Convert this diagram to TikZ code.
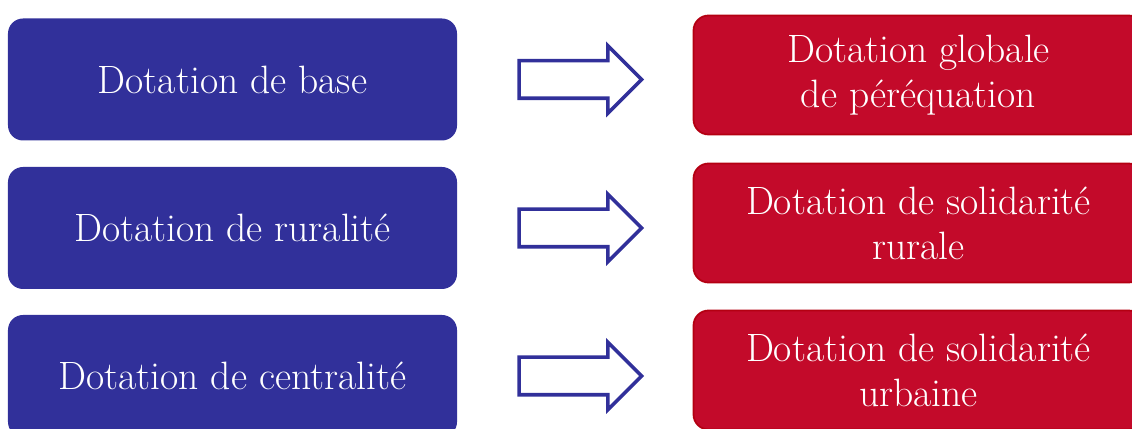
\documentclass[tikz,border=0pt]{standalone}
\usepackage{tikz}
\usepackage{xcolor}
\usetikzlibrary{shapes.arrows}
\usetikzlibrary{positioning}

\definecolor{dotblue}{HTML}{31309A}
\definecolor{dotred}{HTML}{C30A2A}
\definecolor{dotredline}{HTML}{B40012}

\tikzset{
  oldbox/.style={rounded corners=.3cm, fill=dotblue, text=white,
    minimum width=8.98cm, minimum height=2.44cm, align=center,
    font=\fontsize{22.5}{25.5}\selectfont},
  newbox/.style={rounded corners=.3cm, fill=dotred, draw=dotredline,
    line width=1pt, text=white, minimum width=9cm, minimum height=2.38cm,
    align=center, font=\fontsize{22.5}{25.5}\selectfont},
  flowarrow/.style={single arrow, draw=dotblue, fill=white, line width=2pt,
    inner xsep=0pt, inner ysep=.34cm, minimum height=2.45cm, minimum width=1.28cm,
    single arrow head extend=.3cm}
}

\begin{document}
\begin{tikzpicture}
  \useasboundingbox (0,0) rectangle (22.64,8.58);

  % old grants
  \node (base) [oldbox] at (4.65,6.99) {Dotation de base};
  \node (rural) [oldbox] at (4.65,4.02) {Dotation de ruralit\'e};
  \node (centre) [oldbox] at (4.65,1.06) {Dotation de centralit\'e};

  % new grants
  \node (dgp) [newbox] at (18.37,7.08) {Dotation globale\\de p\'er\'equation};
  \node (dsr) [newbox] at (18.37,4.12) {Dotation de solidarit\'e\\rurale};
  \node (dsu) [newbox] at (18.37,1.18) {Dotation de solidarit\'e\\urbaine};

  % arrows
  \node (arra) [flowarrow, right=1.2cm of base] {};
  \node (arrb) [flowarrow, right=1.2cm of rural] {};
  \node (arrc) [flowarrow, right=1.2cm of centre] {};
\end{tikzpicture}
\end{document}
